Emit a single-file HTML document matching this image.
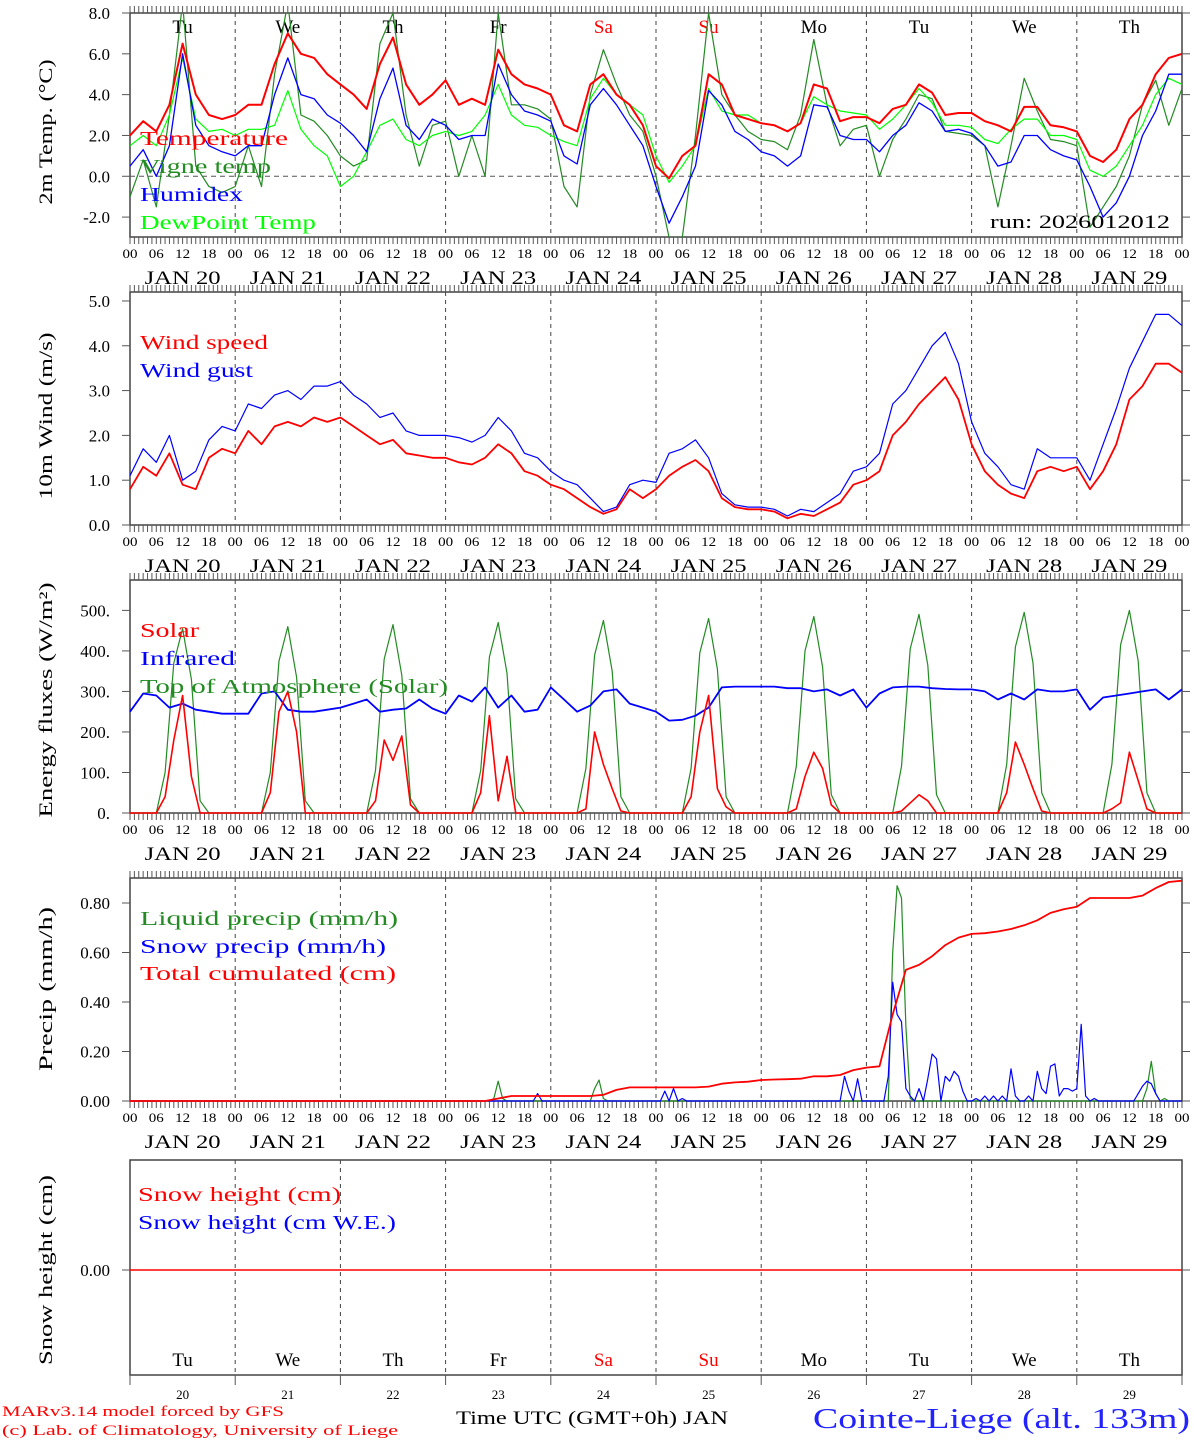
<!DOCTYPE html>
<html><head><meta charset="utf-8"><style>
html,body{margin:0;padding:0;background:#fff;}
svg{display:block;font-family:"Liberation Serif","DejaVu Serif",serif;}
</style></head><body>
<svg id="chart" width="1194" height="1440" viewBox="0 0 1194 1440" xmlns="http://www.w3.org/2000/svg"></svg>
<script>
// ---------- DATA ----------
const dayNames = ["Tu","We","Th","Fr","Sa","Su","Mo","Tu","We","Th"];
const dayNums = ["20","21","22","23","24","25","26","27","28","29"];
const runLabel = "run: 2026012012";
// 3-hourly, Jan20 00 -> Jan30 00
const temperature = [2.0,2.7,2.2,3.5,6.5,4.0,3.0,2.8, 3.0,3.5,3.5,5.5,7.0,6.0,5.8,5.0, 4.5,4.0,3.3,5.5,6.8,4.5,3.5,4.0, 4.7,3.5,3.8,3.5,6.2,5.0,4.5,4.3, 4.0,2.5,2.2,4.5,5.0,4.0,3.5,2.5, 0.5,-0.1,1.0,1.5,5.0,4.5,3.0,2.8, 2.6,2.5,2.2,2.6,4.5,4.3,2.7,2.9, 2.9,2.6,3.3,3.5,4.5,4.1,3.0,3.1, 3.1,2.7,2.5,2.2,3.4,3.4,2.5,2.4, 2.2,1.0,0.7,1.3,2.8,3.5,5.0,5.8,6.0];
const vigne = [-1.0,0.8,-1.5,3.0,8.5,0.5,-0.5,-0.8, -0.5,1.5,-0.5,5.0,8.5,3.0,2.7,2.0, 1.0,0.5,0.8,6.5,8.0,3.0,0.5,2.5, 2.7,0.0,2.0,0.0,8.0,3.5,3.5,3.3, 2.8,-0.5,-1.5,4.0,6.2,4.5,3.0,2.2, 0.0,-3.0,-3.0,2.0,8.0,4.0,3.0,2.2, 1.8,1.7,1.3,3.0,6.7,3.5,1.5,2.3, 2.5,0.0,1.8,2.8,4.0,3.8,2.2,2.1, 2.0,1.5,-1.5,1.5,4.8,3.2,1.8,1.7, 1.5,-2.5,-1.5,-0.5,1.0,3.5,4.7,2.5,4.3];
const humidex = [0.5,1.3,0.0,1.5,6.0,2.5,1.5,1.2, 1.0,1.5,1.5,4.0,5.8,4.0,3.8,3.0, 2.6,2.0,1.2,3.8,5.3,2.5,1.8,2.8, 2.5,1.8,2.0,2.0,5.5,4.0,3.2,3.0, 2.7,1.0,0.6,3.5,4.3,3.5,2.5,1.5, -0.5,-2.3,-1.0,0.5,4.2,3.5,2.2,1.8, 1.2,1.0,0.5,1.0,3.5,3.4,2.0,1.8, 1.8,1.2,2.0,2.5,3.6,3.2,2.2,2.3, 2.1,1.5,0.5,0.7,2.0,2.0,1.3,1.0, 0.8,-0.5,-2.0,-1.3,0.0,2.0,3.2,5.0,5.0];
const dewpoint = [1.5,2.0,1.5,3.0,5.8,2.8,2.2,2.3, 2.0,2.3,2.3,2.5,4.2,2.3,1.5,1.0, -0.5,0.0,1.2,2.5,2.8,1.8,1.5,2.0, 2.2,2.0,2.2,3.0,4.5,3.0,2.5,2.4, 2.0,1.7,1.5,3.8,4.8,4.0,3.5,3.0, 1.0,-0.3,0.5,1.5,4.3,3.2,3.0,3.0, 2.6,2.5,2.2,2.6,3.9,3.5,3.2,3.1, 3.0,2.3,2.8,3.5,4.3,3.6,2.5,2.5, 2.4,1.8,1.6,2.3,2.8,2.8,2.0,2.0, 1.8,0.3,0.0,0.5,1.5,2.5,4.0,4.8,4.5];
const windSpeed = [0.8,1.3,1.1,1.6,0.9,0.8,1.5,1.7, 1.6,2.1,1.8,2.2,2.3,2.2,2.4,2.3, 2.4,2.2,2.0,1.8,1.9,1.6,1.55,1.5, 1.5,1.4,1.35,1.5,1.8,1.6,1.2,1.1, 0.9,0.8,0.6,0.4,0.25,0.35,0.8,0.6, 0.8,1.1,1.3,1.45,1.2,0.6,0.4,0.35, 0.35,0.3,0.15,0.25,0.2,0.35,0.5,0.9, 1.0,1.2,2.0,2.3,2.7,3.0,3.3,2.8, 1.8,1.2,0.9,0.7,0.6,1.2,1.3,1.2, 1.3,0.8,1.2,1.8,2.8,3.1,3.6,3.6,3.4];
const windGust = [1.1,1.7,1.4,2.0,1.0,1.2,1.9,2.2, 2.1,2.7,2.6,2.9,3.0,2.8,3.1,3.1, 3.2,2.9,2.7,2.4,2.5,2.1,2.0,2.0, 2.0,1.95,1.85,2.0,2.4,2.1,1.6,1.5, 1.2,1.0,0.9,0.6,0.3,0.4,0.9,1.0, 0.95,1.6,1.7,1.9,1.5,0.7,0.45,0.4, 0.4,0.35,0.2,0.35,0.3,0.5,0.7,1.2, 1.3,1.6,2.7,3.0,3.5,4.0,4.3,3.6, 2.3,1.6,1.3,0.9,0.8,1.7,1.5,1.5, 1.5,1.0,1.8,2.6,3.5,4.1,4.7,4.7,4.45];
const infrared = [250,295,290,260,270,255,250,245, 245,245,295,300,255,250,250,255, 260,270,280,250,255,258,280,258, 245,290,275,310,260,290,250,255, 310,280,250,265,300,305,270,260, 250,228,230,240,260,310,312,312, 312,312,308,308,300,305,290,305, 260,295,310,312,312,308,306,305, 305,300,280,295,280,305,300,300, 305,255,285,290,295,300,305,280,305];
// 2-hourly per day (00,02,...,22)
const solarDays = [
 [0,0,0,0,40,180,290,90,0,0,0,0],
 [0,0,0,0,50,250,300,200,0,0,0,0],
 [0,0,0,0,30,180,130,190,20,0,0,0],
 [0,0,0,0,50,240,30,140,0,0,0,0],
 [0,0,0,0,10,200,120,60,5,0,0,0],
 [0,0,0,0,40,200,290,60,15,0,0,0],
 [0,0,0,0,10,90,150,110,20,0,0,0],
 [0,0,0,0,5,25,45,30,0,0,0,0],
 [0,0,0,0,50,175,120,60,5,0,0,0],
 [0,0,0,0,10,25,150,80,10,0,0,0]];
const toaDays = [
 [0,0,0,0,100,370,455,330,30,0,0,0],
 [0,0,0,0,100,375,460,335,30,0,0,0],
 [0,0,0,0,105,380,465,340,35,0,0,0],
 [0,0,0,0,105,385,470,345,35,0,0,0],
 [0,0,0,0,110,390,475,350,40,0,0,0],
 [0,0,0,0,110,395,480,355,40,0,0,0],
 [0,0,0,0,115,400,485,360,45,0,0,0],
 [0,0,0,0,115,405,490,365,45,0,0,0],
 [0,0,0,0,120,410,495,370,50,0,0,0],
 [0,0,0,0,120,415,500,375,50,0,0,0]];
const cumulated = [0,0,0,0,0,0,0,0, 0,0,0,0,0,0,0,0, 0,0,0,0,0,0,0,0, 0,0,0,0,0.01,0.02,0.02,0.02, 0.02,0.02,0.02,0.02,0.025,0.045,0.055,0.055, 0.055,0.055,0.055,0.055,0.058,0.07,0.075,0.078, 0.085,0.087,0.088,0.09,0.1,0.1,0.105,0.125, 0.135,0.14,0.35,0.53,0.55,0.585,0.63,0.66, 0.675,0.678,0.685,0.695,0.71,0.73,0.76,0.775, 0.785,0.82,0.82,0.82,0.82,0.83,0.86,0.885,0.89];
// hourly events (hour index from Jan20 00)
const liquidHours = [83,84,85,106,107,108,174,175,176,177,178,232,233,234,236];
const liquidVals  = [0.01,0.08,0.01,0.05,0.085,0.01,0.6,0.87,0.82,0.3,0.01,0.05,0.16,0.03,0.01];
const snowHours = [93,122,124,126,163,164,166,173,174,175,176,177,178,180,182,183,184,186,187,188,189,190,193,195,197,199,201,202,205,207,208,209,210,211,212,213,214,215,216,217,218,220,230,231,232,233,234];
const snowVals  = [0.03,0.04,0.05,0.01,0.1,0.04,0.09,0.1,0.48,0.35,0.32,0.05,0.02,0.05,0.09,0.19,0.17,0.1,0.08,0.12,0.1,0.04,0.01,0.02,0.02,0.02,0.13,0.02,0.02,0.12,0.05,0.03,0.14,0.15,0.02,0.05,0.05,0.04,0.05,0.31,0.02,0.01,0.03,0.06,0.08,0.07,0.03];
const snowHeight = [0,0];

// ---------- DRAW ----------
const svg = document.getElementById('chart');
const NS = 'http://www.w3.org/2000/svg';
const X0 = 130, X1 = 1182;
const X = h => X0 + h * (X1 - X0) / 240;
function el(tag, attrs, parent) {
  const e = document.createElementNS(NS, tag);
  for (const k in attrs) e.setAttribute(k, attrs[k]);
  (parent || svg).appendChild(e);
  return e;
}
function txt(s, x, y, opt, parent) {
  const t = el('text', {x: x, y: y, 'font-size': opt.size || 16, fill: opt.fill || '#000', 'text-anchor': opt.anchor || 'start'}, parent);
  if (opt.len) { t.setAttribute('textLength', opt.len); t.setAttribute('lengthAdjust', 'spacingAndGlyphs'); }
  if (opt.rot) t.setAttribute('transform', opt.rot);
  t.textContent = s;
  return t;
}
function mkY(vmin, vmax, ytop, ybot) { return v => ybot - (v - vmin) / (vmax - vmin) * (ybot - ytop); }
function line(pts, color, w, name, parent) {
  const p = el('polyline', {points: pts.map(q => q[0].toFixed(1) + ',' + q[1].toFixed(1)).join(' '), fill: 'none', stroke: color, 'stroke-width': w, 'stroke-linejoin': 'round'}, parent);
  
  
  return p;
}
function series3h(arr, Y) { return arr.map((v, i) => [X(i * 3), Y(v)]); }
function seriesDays(days, Y) {
  const pts = [];
  days.forEach((d, di) => d.forEach((v, j) => pts.push([X(di * 24 + j * 2), Y(v)])));
  pts.push([X(240), Y(0)]);
  return pts;
}
function hourly(hours, vals) {
  const a = new Array(241).fill(0);
  hours.forEach((h, i) => a[h] = vals[i]);
  return a;
}

function panel(name, top, bot, opts) {
  const g = el('g', {});
  
  
  el('rect', {x: X0, y: top, width: X1 - X0, height: bot - top, fill: 'none', stroke: '#444', 'stroke-width': 1.5}, g);
  for (let d = 1; d < 10; d++) el('line', {x1: X(d * 24), x2: X(d * 24), y1: top, y2: bot, stroke: '#444', 'stroke-width': 1, 'stroke-dasharray': '4,4'}, g);
  if (opts.hourTicks) {
    for (let h = 0; h <= 240; h++) {
      const L = 7;
      el('line', {x1: X(h), x2: X(h), y1: top, y2: top - L, stroke: '#555', 'stroke-width': 1}, g);
      el('line', {x1: X(h), x2: X(h), y1: bot, y2: bot + L, stroke: '#555', 'stroke-width': 1}, g);
    }
    for (let d = 0; d < 10; d++) {
      ['00', '06', '12', '18'].forEach((s, k) => txt(s, X(d * 24 + k * 6), bot + 21, {size: 13, anchor: 'middle', len: 15}, g));
      txt('JAN ' + dayNums[d], X(d * 24 + 12), bot + 47, {size: 19, anchor: 'middle', len: 76}, g);
    }
    txt('00', X(240), bot + 21, {size: 13, anchor: 'middle', len: 15}, g);
  }
  opts.ticks.forEach((v, i) => {
    const y = opts.Y(v);
    el('line', {x1: X0 - 8, x2: X0, y1: y, y2: y, stroke: '#555', 'stroke-width': 1}, g);
    el('line', {x1: X1, x2: X1 + 8, y1: y, y2: y, stroke: '#555', 'stroke-width': 1}, g);
    txt(opts.tickLabels[i], 110, y + 6, {size: 17, anchor: 'end'}, g);
  });
  const ty = opts.titleY;
  txt(opts.title, 52, ty, {size: 19, anchor: 'middle', len: opts.titleLen, rot: 'rotate(-90 52 ' + ty + ')'}, g);
  return g;
}

// Panel 1: temperature
const Y1 = mkY(-3, 8, 13, 237.5);
const tempTicks = [-2, 0, 2, 4, 6, 8];
const tempTickLabels = ['-2.0', '0.0', '2.0', '4.0', '6.0', '8.0'];
const g1 = panel('temperature-panel', 13, 237, {hourTicks: true, Y: Y1, ticks: tempTicks, tickLabels: tempTickLabels, title: '2m Temp. (\u00B0C)', titleY: 132, titleLen: 145});
el('line', {x1: X0, x2: X1, y1: Y1(0), y2: Y1(0), stroke: '#555', 'stroke-width': 1, 'stroke-dasharray': '5,4'}, g1);
dayNames.forEach((n, d) => txt(n, X(d * 24 + 12), 33, {size: 19, anchor: 'middle', fill: (d == 4 || d == 5) ? '#f00' : '#000'}, g1));
const clip1 = el('clipPath', {id: 'c1'}); el('rect', {x: X0, y: 13, width: X1 - X0, height: 224}, clip1);
const s1 = el('g', {'clip-path': 'url(#c1)'}, g1);
line(series3h(vigne, Y1), '#228b22', 1.2, 'vigne-temp-line', s1);
line(series3h(dewpoint, Y1), '#00ff00', 1.2, 'dewpoint-line', s1);
line(series3h(humidex, Y1), '#0000ff', 1.3, 'humidex-line', s1);
line(series3h(temperature, Y1), '#ff0000', 2, 'temperature-line', s1);
txt('Temperature', 140, 145, {size: 20, fill: '#f00', len: 148}, g1);
txt('Vigne temp', 140, 173, {size: 20, fill: '#228b22', len: 131}, g1);
txt('Humidex', 140, 201, {size: 20, fill: '#00f', len: 103}, g1);
txt('DewPoint Temp', 140, 229, {size: 20, fill: '#0f0', len: 176}, g1);
txt(runLabel, 1170, 228, {size: 19, anchor: 'end', len: 180}, g1);

// Panel 2: wind
const Y2 = mkY(0, 5.2, 292, 525);
const windTicks = [0, 1, 2, 3, 4, 5];
const windTickLabels = ['0.0', '1.0', '2.0', '3.0', '4.0', '5.0'];
const g2 = panel('wind-panel', 292, 525, {hourTicks: true, Y: Y2, ticks: windTicks, tickLabels: windTickLabels, title: '10m Wind (m/s)', titleY: 416, titleLen: 167});
line(series3h(windGust, Y2), '#0000ff', 1.2, 'wind-gust-line', g2);
line(series3h(windSpeed, Y2), '#ff0000', 1.8, 'wind-speed-line', g2);
txt('Wind speed', 140, 349, {size: 20, fill: '#f00', len: 128}, g2);
txt('Wind gust', 140, 377, {size: 20, fill: '#00f', len: 113}, g2);

// Panel 3: energy
const Y3 = mkY(0, 575, 580, 813);
const enTicks = [0, 100, 200, 300, 400, 500];
const enTickLabels = ['0.', '100.', '200.', '300.', '400.', '500.'];
const g3 = panel('energy-panel', 580, 813, {hourTicks: true, Y: Y3, ticks: enTicks, tickLabels: enTickLabels, title: 'Energy fluxes (W/m\u00B2)', titleY: 700, titleLen: 235});
line(seriesDays(toaDays, Y3), '#228b22', 1.2, 'toa-solar-line', g3);
line(series3h(infrared, Y3), '#0000ff', 1.8, 'infrared-line', g3);
line(seriesDays(solarDays, Y3), '#ff0000', 1.6, 'solar-line', g3);
txt('Solar', 140, 637, {size: 20, fill: '#f00', len: 59}, g3);
txt('Infrared', 140, 665, {size: 20, fill: '#00f', len: 95}, g3);
txt('Top of Atmosphere (Solar)', 140, 693, {size: 20, fill: '#228b22', len: 308}, g3);

// Panel 4: precip
const Y4 = mkY(0, 0.8, 903, 1101);
const prTicks = [0, 0.2, 0.4, 0.6, 0.8];
const prTickLabels = ['0.00', '0.20', '0.40', '0.60', '0.80'];
const g4 = panel('precip-panel', 878, 1101, {hourTicks: true, Y: Y4, ticks: prTicks, tickLabels: prTickLabels, title: 'Precip (mm/h)', titleY: 989, titleLen: 164});
const liq = hourly(liquidHours, liquidVals), snw = hourly(snowHours, snowVals);
line(liq.map((v, h) => [X(h), Y4(v)]), '#228b22', 1.2, 'liquid-precip-line', g4);
line(snw.map((v, h) => [X(h), Y4(v)]), '#0000ff', 1.2, 'snow-precip-line', g4);
line(series3h(cumulated, Y4), '#ff0000', 1.8, 'total-cumulated-line', g4);
txt('Liquid precip (mm/h)', 140, 925, {size: 20, fill: '#228b22', len: 258}, g4);
txt('Snow precip (mm/h)', 140, 953, {size: 20, fill: '#00f', len: 246}, g4);
txt('Total cumulated (cm)', 140, 980, {size: 20, fill: '#f00', len: 256}, g4);

// Panel 5: snow height
const Y5 = v => 1270 - v * 100;
const g5 = panel('snow-panel', 1160, 1375, {hourTicks: false, Y: Y5, ticks: [0], tickLabels: ['0.00'], title: 'Snow height (cm)', titleY: 1270, titleLen: 190});
line(snowHeight.map((v, i) => [X(i * 240), Y5(v)]), '#ff0000', 1.5, 'snow-height-line', g5);
txt('Snow height (cm)', 138, 1201, {size: 20, fill: '#f00', len: 203}, g5);
txt('Snow height (cm W.E.)', 138, 1229, {size: 20, fill: '#00f', len: 258}, g5);
dayNames.forEach((n, d) => txt(n, X(d * 24 + 12), 1366, {size: 19, anchor: 'middle', fill: (d == 4 || d == 5) ? '#f00' : '#000'}, g5));
for (let d = 0; d <= 10; d++) el('line', {x1: X(d * 24), x2: X(d * 24), y1: 1375, y2: 1385, stroke: '#555', 'stroke-width': 1}, g5);
dayNums.forEach((n, d) => txt(n, X(d * 24 + 12), 1399, {size: 13, anchor: 'middle'}, g5));

// footer
txt('MARv3.14 model forced by GFS', 2, 1416, {size: 15, fill: '#f00', len: 282});
txt('(c) Lab. of Climatology, University of Liege', 2, 1435, {size: 15, fill: '#f00', len: 396});
txt('Time UTC (GMT+0h) JAN', 456, 1424, {size: 19, len: 272});
txt('Cointe-Liege (alt. 133m)', 813, 1428, {size: 28, fill: '#22f', len: 377});
</script>
</body></html>
